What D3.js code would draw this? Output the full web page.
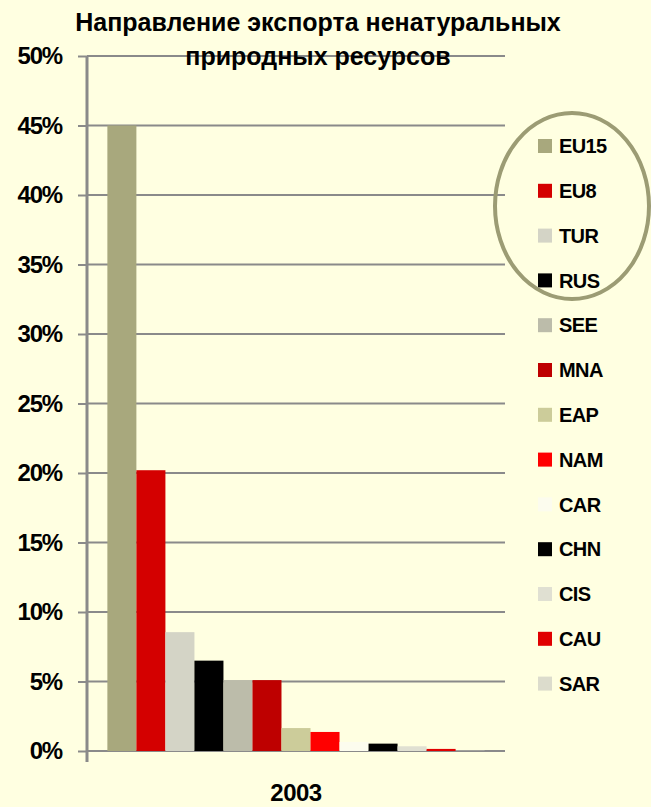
<!DOCTYPE html>
<html><head><meta charset="utf-8">
<script src="https://cdn.jsdelivr.net/npm/d3@7"></script>
<style>html,body{margin:0;padding:0;background:#ffffe1;}svg{display:block;}</style>
</head><body>
<script>
const years = ["2003"];
const regions = ["EU15","EU8","TUR","RUS","SEE","MNA","EAP","NAM","CAR","CHN","CIS","CAU","SAR"];
const values = [45.0, 20.2, 8.55, 6.5, 5.1, 5.1, 1.65, 1.37, 0.65, 0.53, 0.34, 0.15, 0.02];
const colors = ["#a8a87d","#d40000","#d4d4c6","#000000","#bcbcaa","#be0000","#cccc9a","#ff0000","#fcfcee","#000000","#e0e0d2","#e00000","#dcdccc"];
const yTicks = [0,5,10,15,20,25,30,35,40,45,50];
const title = ["Направление экспорта ненатуральных","природных ресурсов"];

(function(){
const W = 651, H = 807;
const svg = d3.select("body").append("svg").attr("width", W).attr("height", H);
svg.append("rect").attr("width", W).attr("height", H).attr("fill", "#ffffe1");

const pLeft = 87, pRight = 505, pTop = 56, pBottom = 751;
const y = d3.scaleLinear().domain([0,50]).range([pBottom, pTop]);
const x0 = d3.scaleBand().domain(years).range([pLeft, pRight]).paddingInner(0).paddingOuter(0.054);
const x1 = d3.scaleBand().domain(regions).range([0, x0.bandwidth()]).padding(0);
const font = "'Liberation Sans', Arial, sans-serif";

// gridlines
svg.append("g").selectAll("line").data(yTicks).join("line")
  .attr("x1", pLeft).attr("x2", pRight)
  .attr("y1", d => y(d)).attr("y2", d => y(d))
  .attr("stroke", "#8a8a8a").attr("stroke-width", 2);

// bars
const g = svg.append("g").selectAll("g").data(years).join("g")
  .attr("transform", d => `translate(${x0(d)},0)`);
g.selectAll("rect").data(regions.map((r,i)=>({r, v: values[i], c: colors[i]}))).join("rect")
  .attr("x", d => x1(d.r)).attr("width", x1.bandwidth())
  .attr("y", d => y(d.v)).attr("height", d => y(0) - y(d.v))
  .attr("fill", d => d.c);

// y axis
const ax = svg.append("g").attr("transform", `translate(${pLeft},0)`)
  .call(d3.axisLeft(y).tickValues(yTicks).tickFormat(d => d + "%").tickSize(9).tickPadding(16));
ax.select(".domain").remove();
ax.selectAll(".tick line").attr("stroke", "#8a8a8a").attr("stroke-width", 2);
ax.selectAll(".tick text").attr("font-family", font).attr("font-weight", "bold")
  .attr("font-size", 24).attr("fill", "#000").attr("letter-spacing", -1.2);
svg.append("line").attr("x1", pLeft).attr("x2", pLeft).attr("y1", pTop).attr("y2", pBottom + 11)
  .attr("stroke", "#8a8a8a").attr("stroke-width", 3);

// x label
svg.append("g").selectAll("text").data(years).join("text")
  .attr("x", d => x0(d) + x0.bandwidth()/2).attr("y", 801)
  .attr("text-anchor", "middle").attr("font-family", font).attr("font-weight", "bold")
  .attr("font-size", 24).attr("letter-spacing", -0.5).text(d => d);

// title
svg.append("g").selectAll("text").data(title).join("text")
  .attr("x", 318).attr("y", (d,i) => 31 + i*34)
  .attr("text-anchor", "middle").attr("font-family", font).attr("font-weight", "bold")
  .attr("font-size", 25).attr("fill", "#000").text(d => d);

// legend
const lg = svg.append("g").selectAll("g").data(regions).join("g")
  .attr("transform", (d,i) => `translate(538,${146 + i*44.8})`);
lg.append("rect").attr("x", 0).attr("y", -7).attr("width", 14).attr("height", 14)
  .attr("fill", (d,i) => colors[i]);
lg.append("text").attr("x", 21).attr("y", 0).attr("dy", "0.36em")
  .attr("font-family", font).attr("font-weight", "bold").attr("font-size", 20)
  .attr("letter-spacing", -0.6).text(d => d);

// highlight ellipse
svg.append("ellipse").attr("cx", 572).attr("cy", 206).attr("rx", 77).attr("ry", 93)
  .attr("fill", "none").attr("stroke", "#9c9c74").attr("stroke-width", 4);
})();
</script>
</body></html>
